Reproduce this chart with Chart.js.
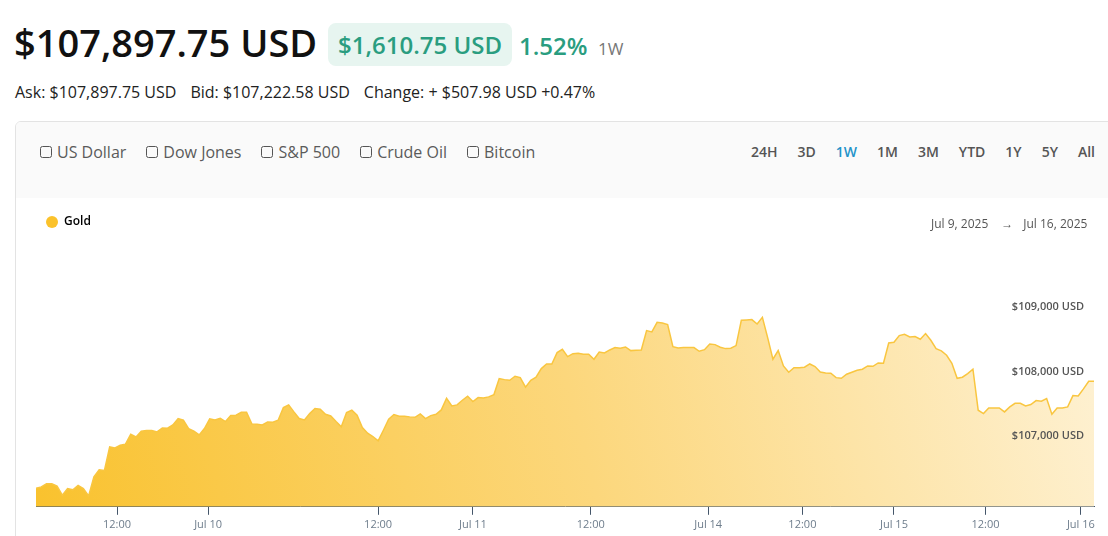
<!DOCTYPE html>
<html>
<head>
<meta charset="utf-8">
<script src="https://cdn.jsdelivr.net/npm/chart.js@4.4.1/dist/chart.umd.min.js"></script>
<style>
  html, body { margin: 0; padding: 0; background: #fff; }
  body { width: 1108px; height: 536px; position: relative; overflow: hidden; font-family: "Open Sans", "Noto Sans", sans-serif; }
  .abs { position: absolute; white-space: nowrap; line-height: 1; }
  #price { left: 14px; top: 23px; font-size: 38px; font-weight: 600; color: #111; }
  #badge { left: 328px; top: 23px; width: 184px; height: 43px; border-radius: 8px; background: #e7f5f0;
           display: flex; align-items: center; justify-content: center; font-size: 24px; font-weight: 600; color: #2a9d80; }
  #pct { left: 519px; top: 34px; font-size: 24px; font-weight: 600; color: #2a9d80; }
  #period { left: 598px; top: 40px; font-size: 17px; color: #777; }
  #quote { left: 15px; top: 84px; font-size: 16px; color: #222; }
  #quote span + span { margin-left: 14px; }
  #card { position: absolute; left: 15px; top: 121px; width: 1120px; height: 440px; border: 1px solid #e3e3e3; border-radius: 6px; overflow: hidden; }
  #toolbar { position: absolute; left: 0; top: 0; right: 0; height: 76px; background: #fafafa; }
  .checks { position: absolute; left: 24px; top: 21px; display: flex; gap: 20px; font-size: 16px; color: #5a5a5a; line-height: 18px; }
  .checks label { display: flex; align-items: center; gap: 5px; }
  .checks i { display: inline-block; width: 10px; height: 10px; border: 1.4px solid #555; border-radius: 2.5px; }
  .ranges { position: absolute; left: 735px; top: 21px; display: flex; gap: 20px; font-size: 14px; font-weight: 600; color: #555; line-height: 18px; }
  .ranges .on { color: #2292c9; }
  #range { left: 931px; top: 218px; font-size: 12px; color: #555; }
  #range .arrow { margin: 0 10px 0 13px; }
  #chartBox { position: absolute; left: 16px; top: 200px; width: 1092px; height: 336px; }
</style>
</head>
<body>
<div class="abs" id="price">$107,897.75 USD</div>
<div class="abs" id="badge">$1,610.75 USD</div>
<div class="abs" id="pct">1.52%</div>
<div class="abs" id="period">1W</div>
<div class="abs" id="quote"><span>Ask: $107,897.75 USD</span><span>Bid: $107,222.58 USD</span><span>Change: + $507.98 USD +0.47%</span></div>

<div id="card">
  <div id="toolbar">
    <div class="checks">
      <label><i></i>US Dollar</label>
      <label><i></i>Dow Jones</label>
      <label><i></i>S&amp;P 500</label>
      <label><i></i>Crude Oil</label>
      <label><i></i>Bitcoin</label>
    </div>
    <div class="ranges">
      <span>24H</span><span>3D</span><span class="on">1W</span><span>1M</span><span>3M</span><span>YTD</span><span>1Y</span><span>5Y</span><span>All</span>
    </div>
  </div>
</div>

<div id="chartBox"><canvas id="goldChart"></canvas></div>
<div class="abs" id="range">Jul 9, 2025<span class="arrow">&rarr;</span>Jul 16, 2025</div>

<script>
// equally spaced samples, Jul 9 -> Jul 16 2025
const goldPrices = [
  106189, 106209, 106256, 106256, 106220, 106080, 106183, 106163, 106230, 106183,
  106070, 106364, 106473, 106463, 106829, 106814, 106855, 106871, 107026, 106984,
  107072, 107083, 107083, 107062, 107124, 107119, 107171, 107269, 107243, 107114,
  107072, 107015, 107114, 107264, 107248, 107274, 107222, 107315, 107320, 107367,
  107367, 107186, 107181, 107171, 107217, 107212, 107243, 107439, 107481, 107372,
  107269, 107248, 107346,
  107424, 107413, 107336, 107310, 107222, 107140, 107362, 107398, 107320, 107129,
  107041, 106990, 106922, 107088, 107258, 107331, 107305, 107305, 107295, 107289,
  107341, 107269, 107315, 107336, 107403, 107584, 107465, 107481, 107553, 107615,
  107532, 107594, 107589, 107605, 107641, 107889, 107873, 107863, 107925, 107904,
  107755, 107863, 107910, 108044, 108116, 108116, 108292, 108344, 108230, 108276,
  108282,
  108266, 108266, 108189, 108302, 108287, 108333, 108370, 108359, 108380, 108323,
  108328, 108333, 108633, 108612, 108762, 108752, 108726, 108385, 108364, 108370,
  108370, 108370, 108313, 108338, 108426, 108416, 108375, 108354, 108359, 108401,
  108793, 108798, 108804, 108736, 108840, 108525, 108189, 108323, 108085, 107987,
  108059, 108059, 108065, 108116, 108075, 107992, 107977, 107972, 107904, 107894,
  107956,
  107987, 108018, 108034, 108085, 108080, 108132, 108127, 108442, 108452, 108556,
  108576, 108535, 108540, 108499, 108587, 108483, 108354, 108318, 108251, 108127,
  107894, 107910, 107966, 108034, 107398, 107346, 107434, 107434, 107434, 107372,
  107450, 107506, 107506, 107465, 107486, 107548, 107537, 107579, 107336, 107434,
  107434, 107450, 107625, 107620, 107729, 107848, 107848
];

// where the time labels fall, in sample index units
const tickPositions = [15.4, 32.7, 65.0, 83.0, 105.4, 127.7, 145.6, 163.0, 180.4, 198.5];
const tickLabels = ['12:00', 'Jul 10', '12:00', 'Jul 11', '12:00', 'Jul 14', '12:00', 'Jul 15', '12:00', 'Jul 16'];

const priceTicks = [107000, 108000, 109000];

const fillGradient = (context) => {
    const { chart } = context;
    const area = chart.chartArea;
    if (!area) return 'rgba(249,194,46,0.6)';
    const g = chart.ctx.createLinearGradient(area.left, area.bottom, area.right, area.top);
    g.addColorStop(0, '#f9c22e');
    g.addColorStop(0.5, '#fcd77c');
    g.addColorStop(1, '#fef2d6');
    return g;
};

const ctx = document.getElementById('goldChart');

new Chart(ctx, {
    type: 'line',
    data: {
        datasets: [{
            label: 'Gold',
            data: goldPrices.map((p, i) => ({ x: i, y: p })),
            borderColor: '#f9c640',
            borderWidth: 1.5,
            backgroundColor: fillGradient,
            fill: 'start',
            pointRadius: 0,
            tension: 0
        }]
    },
    options: {
        responsive: true,
        maintainAspectRatio: false,
        animation: false,
        layout: { padding: { top: 6, left: 20, right: 14, bottom: 2 } },
        plugins: {
            tooltip: { enabled: false },
            legend: {
                position: 'top',
                align: 'start',
                labels: {
                    usePointStyle: true,
                    boxWidth: 12,
                    boxHeight: 8.5,
                    color: '#1b2b44',
                    font: { family: 'Open Sans', size: 12, weight: '600' },
                    generateLabels: () => [{
                        text: 'Gold', fillStyle: '#fbc22b', strokeStyle: '#fbc22b',
                        lineWidth: 0, pointStyle: 'circle', datasetIndex: 0
                    }]
                }
            }
        },
        scales: {
            x: {
                type: 'linear',
                min: 0,
                max: goldPrices.length - 1,
                afterBuildTicks: (scale) => { scale.ticks = tickPositions.map(v => ({ value: v })); },
                afterFit: (scale) => { scale.paddingLeft = 0; scale.paddingRight = 0; },
                grid: { drawOnChartArea: false, drawTicks: true, tickLength: 8, color: '#44566a' },
                border: { color: '#44566a', width: 1 },
                ticks: {
                    autoSkip: false,
                    maxRotation: 0,
                    padding: 3,
                    color: '#6e7d8c',
                    font: { family: 'Open Sans', size: 11 },
                    callback: (value, index) => tickLabels[index]
                }
            },
            y: {
                position: 'right',
                min: 105900,
                max: 110070,
                afterBuildTicks: (scale) => { scale.ticks = priceTicks.map(v => ({ value: v })); },
                afterFit: (scale) => { scale.width = 0; },
                grid: { display: false, drawTicks: false },
                border: { display: false },
                ticks: {
                    z: 1,
                    mirror: true,
                    padding: -10,
                    color: '#555',
                    font: { family: 'Open Sans', size: 11, weight: '600' },
                    callback: (value) => '$' + value.toLocaleString('en-US') + ' USD'
                }
            }
        }
    }
});
</script>
</body>
</html>
